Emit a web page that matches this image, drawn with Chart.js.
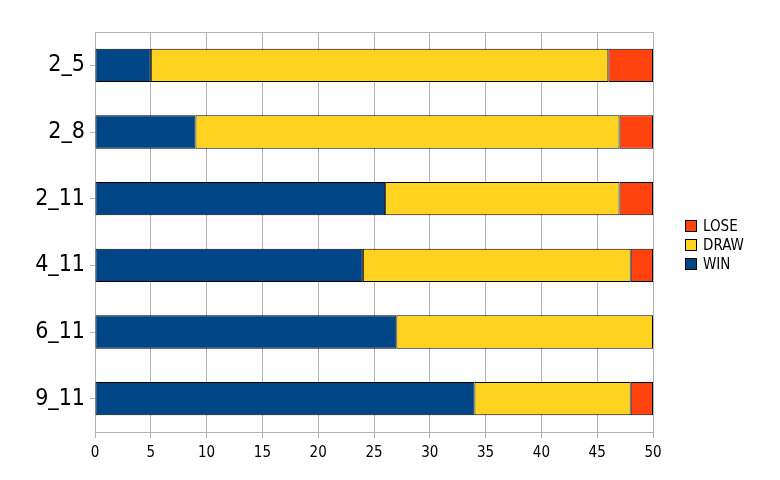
<!DOCTYPE html>
<html>
<head>
<meta charset="utf-8">
<script src="https://cdn.jsdelivr.net/npm/chart.js@4/dist/chart.umd.min.js"></script>
<style>
html,body{margin:0;padding:0;background:#fff;}
#wrap{width:780px;height:480px;position:relative;}
</style>
</head>
<body>
<div id="wrap"><canvas id="c" width="780" height="480"></canvas></div>
<script>
const categories = ["2_5", "2_8", "2_11", "4_11", "6_11", "9_11"];
const winValues  = [5, 9, 26, 24, 27, 34];
const drawValues = [41, 38, 21, 24, 23, 14];
const loseValues = [4, 3, 3, 2, 0, 2];
const xTicks = [0, 5, 10, 15, 20, 25, 30, 35, 40, 45, 50];

const FONT = "'DejaVu Sans Condensed', 'Liberation Sans Narrow', sans-serif";

const frameTop = {
  id: 'frameTop',
  beforeDatasetsDraw(chart) {
    const a = chart.chartArea, ctx = chart.ctx;
    ctx.save();
    ctx.strokeStyle = '#b3b3b3';
    ctx.lineWidth = 1;
    ctx.beginPath();
    ctx.moveTo(a.left, Math.round(a.top) + 0.5);
    ctx.lineTo(a.right, Math.round(a.top) + 0.5);
    ctx.stroke();
    ctx.restore();
  }
};

const sideLegend = {
  id: 'sideLegend',
  afterDraw(chart) {
    const ctx = chart.ctx;
    const ds = chart.data.datasets.slice().reverse();
    const x = 685, y0 = 220, step = 19, box = 12;
    ctx.save();
    ctx.font = "15px " + FONT;
    ctx.textBaseline = 'middle';
    ds.forEach((d, i) => {
      const y = y0 + i * step;
      ctx.fillStyle = d.backgroundColor;
      ctx.fillRect(x, y, box, box);
      ctx.strokeStyle = '#000';
      ctx.lineWidth = 1;
      ctx.strokeRect(x + 0.5, y + 0.5, box - 1, box - 1);
      ctx.fillStyle = '#000';
      ctx.fillText(d.label, x + box + 6, y + box / 2 + 1);
    });
    ctx.restore();
  }
};

new Chart(document.getElementById('c'), {
  type: 'bar',
  data: {
    labels: categories,
    datasets: [
      { label: 'WIN',  data: winValues,  backgroundColor: '#004586', borderColor: '#000', borderSkipped: false,
        borderWidth: c => (c.raw ? 1 : 0) },
      { label: 'DRAW', data: drawValues, backgroundColor: '#ffd320', borderColor: '#000', borderSkipped: false,
        borderWidth: c => (c.raw ? 1 : 0) },
      { label: 'LOSE', data: loseValues, backgroundColor: '#ff420e', borderColor: '#000', borderSkipped: false,
        borderWidth: c => (c.raw ? 1 : 0) }
    ]
  },
  options: {
    indexAxis: 'y',
    responsive: false,
    animation: false,
    devicePixelRatio: 1,
    barPercentage: 0.5,
    categoryPercentage: 1,
    layout: { padding: { left: 0, right: 127, top: 32, bottom: 0 } },
    plugins: { legend: { display: false }, tooltip: { enabled: false } },
    scales: {
      x: {
        stacked: true,
        min: 0, max: 50,
        afterBuildTicks(s) { s.ticks = xTicks.map(v => ({ value: v })); },
        afterFit(s) { s.height = 48; },
        grid: { color: '#b3b3b3', lineWidth: 1, tickLength: 6, drawTicks: true },
        border: { color: '#b3b3b3' },
        ticks: { color: '#000', font: { family: FONT, size: 15 }, padding: 6, maxRotation: 0 }
      },
      y: {
        stacked: true,
        afterFit(s) { s.width = 95; },
        grid: { drawOnChartArea: false, offset: false, color: '#b3b3b3', tickLength: 5 },
        border: { color: '#b3b3b3' },
        ticks: { color: '#000', font: { family: FONT, size: 23 }, padding: 5 }
      }
    }
  },
  plugins: [frameTop, sideLegend]
});
</script>
</body>
</html>
